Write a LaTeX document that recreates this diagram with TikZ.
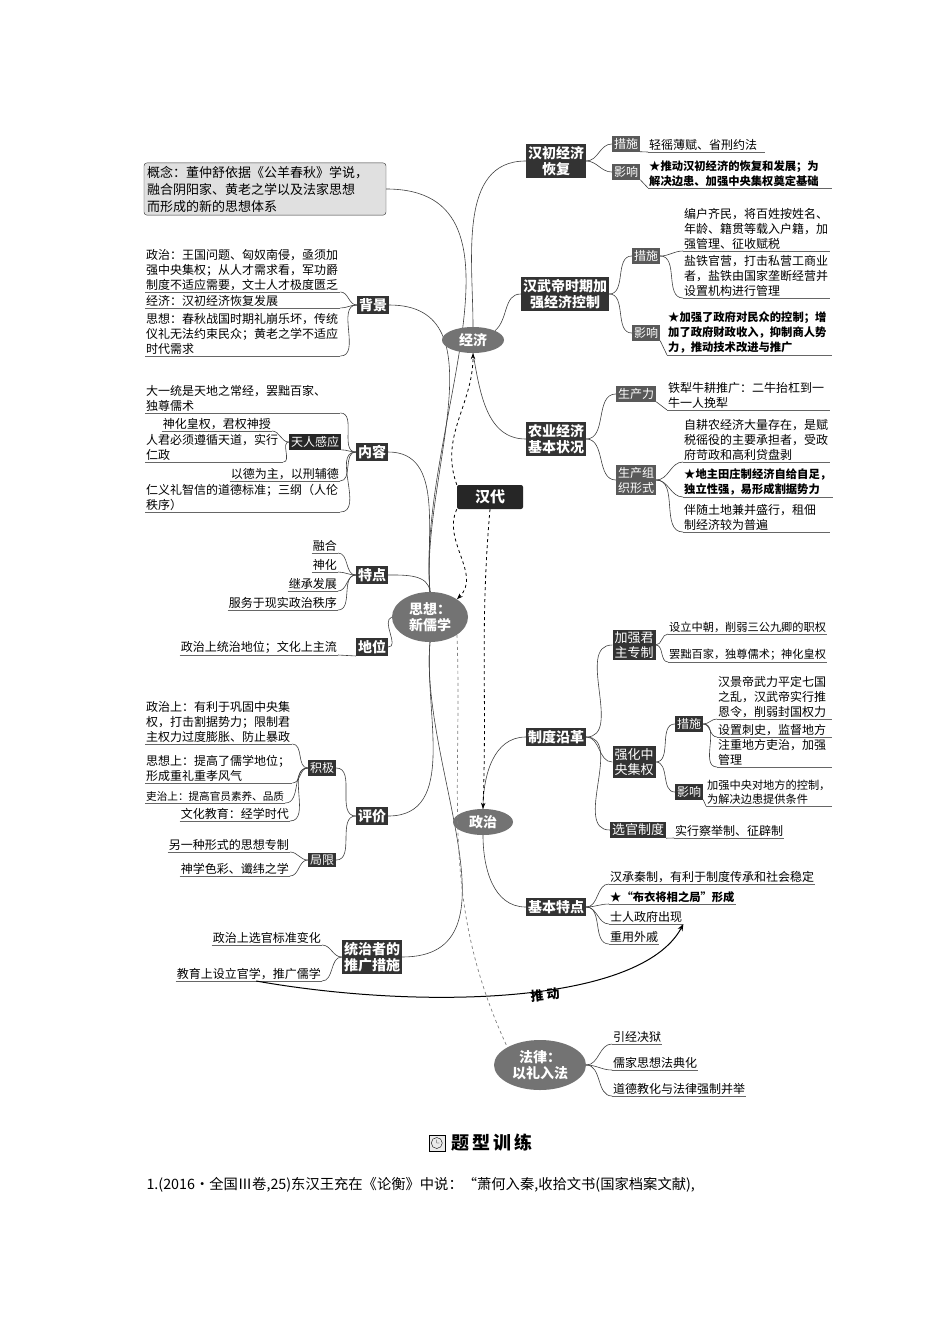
\documentclass[tikz,border=0pt]{standalone}
\usepackage{fontspec}
\setmainfont{Noto Sans CJK SC}
\XeTeXlinebreaklocale "zh"
\XeTeXlinebreakskip=0pt plus 1pt
\usetikzlibrary{shapes.geometric,calc,arrows.meta}
\newcommand{\fs}{\fontsize{12}{15}\selectfont}
\newcommand{\fb}{\fontsize{11.3}{15}\selectfont\bfseries}
\newcommand{\fh}{\fontsize{14}{16.5}\selectfont\bfseries}
\begin{document}
\begin{tikzpicture}[x=1pt,y=-1pt,
  leaf/.style={inner xsep=1pt,inner ysep=1.5pt,align=left,font=\fs,
    append after command={(\tikzlastnode.south west) edge[draw=black!60,line width=0.8pt] (\tikzlastnode.south east)}},
  leafr/.style={leaf,align=right},
  bleaf/.style={leaf,font=\fb},
  dbox/.style={fill=black!80,text=white,font=\fh,inner sep=2pt,align=center},
  sbox/.style={fill=black!65,text=white,font=\fs,inner sep=2pt,align=center},
  ell/.style={ellipse,fill=black!55,text=white,font=\fh,inner sep=1pt,align=center},
  con/.style={draw=black!75,line width=0.6pt},
  dar/.style={dashed,line width=0.8pt,-{Stealth[length=6pt]}}]
\useasboundingbox[fill=white] (0,0) rectangle (950,1344);

% ---------------- left: thought
\node[ell,minimum width=76,minimum height=50] (sx) at (430,617) {思想：\\新儒学};
\node[draw=black!80,fill=black!12,rounded corners=3pt,text width=236,align=left,font=\fontsize{13}{17}\selectfont,inner sep=3pt] (gn) at (265,189) {概念：董仲舒依据《公羊春秋》学说，\\融合阴阳家、黄老之学以及法家思想\\而形成的新的思想体系};

\node[dbox] (bj) at (373,305) {背景};
\node[leaf,anchor=south west,text width=193] (bj1) at (145,292) {政治：王国问题、匈奴南侵，亟须加\\强中央集权；从人才需求看，军功爵\\制度不适应需要，文士人才极度匮乏};
\node[leaf,anchor=south west,text width=193] (bj2) at (145,308) {经济：汉初经济恢复发展};
\node[leaf,anchor=south west,text width=193] (bj3) at (145,356) {思想：春秋战国时期礼崩乐坏，传统\\仪礼无法约束民众；黄老之学不适应\\时代需求};

\node[dbox] (nr) at (372,452) {内容};
\node[leaf,anchor=south west,text width=193] (nr1) at (145,413) {大一统是天地之常经，罢黜百家、\\独尊儒术};
\node[sbox,fill=black!85] (tr) at (315,442) {天人感应};
\node[leafr,anchor=south east] (nr2) at (272,431) {神化皇权，君权神授};
\node[leaf,anchor=south west,text width=136] (nr3) at (145,462) {人君必须遵循天道，实行\\仁政};
\node[leafr,anchor=south east] (nr4) at (340,481) {以德为主，以刑辅德};
\node[leaf,anchor=south west,text width=193] (nr5) at (145,512) {仁义礼智信的道德标准；三纲（人伦\\秩序）};

\node[dbox] (td) at (372,575) {特点};
\node[leafr,anchor=south east] (td1) at (338,553) {融合};
\node[leafr,anchor=south east] (td2) at (338,572) {神化};
\node[leafr,anchor=south east] (td3) at (338,591) {继承发展};
\node[leafr,anchor=south east] (td4) at (338,610) {服务于现实政治秩序};

\node[dbox] (dw) at (372,647) {地位};
\node[leafr,anchor=south east] (dw1) at (338,655) {政治上统治地位；文化上主流};

\node[dbox] (pj) at (372,816) {评价};
\node[sbox,fill=black!80] (jj1) at (322,768) {积极};
\node[sbox,fill=black!80] (jx) at (322,860) {局限};
\node[leaf,anchor=south west,text width=145] (pj1) at (145,744) {政治上：有利于巩固中央集\\权，打击割据势力；限制君\\主权力过度膨胀、防止暴政};
\node[leaf,anchor=south west,text width=145] (pj2) at (145,783) {思想上：提高了儒学地位；\\形成重礼重孝风气};
\node[leaf,anchor=south west,font=\fontsize{10.6}{13}\selectfont] (pj3) at (145,803) {吏治上：提高官员素养、品质};
\node[leafr,anchor=south east] (pj4) at (290,821) {文化教育：经学时代};
\node[leafr,anchor=south east] (jx1) at (290,852) {另一种形式的思想专制};
\node[leafr,anchor=south east] (jx2) at (290,876) {神学色彩、谶纬之学};

\node[dbox] (ts) at (372,957) {统治者的\\推广措施};
\node[leafr,anchor=south east] (ts1) at (322,945) {政治上选官标准变化};
\node[leafr,anchor=south east] (ts2) at (322,981) {教育上设立官学，推广儒学};

% connectors left
\foreach \n in {gn,bj,nr,td} \draw[con] (sx.north) to[out=95,in=0] (\n.east);
\draw[con] (sx.west) to[out=200,in=0] (dw.east);
\draw[con] (dw1.south east) -- (dw.south west);
\foreach \n in {pj,ts} \draw[con] (sx.south) to[out=-95,in=0] (\n.east);
\foreach \n in {bj1,bj2,bj3} \draw[con] (bj.west) to[out=180,in=0] (\n.south east);
\foreach \n in {nr1,tr,nr4,nr5} \draw[con] (nr.west) to[out=180,in=0] (\n.south east);
\foreach \n in {nr2,nr3} \draw[con] (tr.west) to[out=180,in=0] (\n.south east);
\foreach \n in {td1,td2,td3,td4} \draw[con] (td.west) to[out=180,in=0] (\n.south east);
\foreach \n in {jj1,jx} \draw[con] (pj.west) to[out=180,in=0] (\n.east);
\foreach \n in {pj1,pj2,pj3,pj4} \draw[con] (jj1.west) to[out=180,in=0] (\n.south east);
\foreach \n in {jx1,jx2} \draw[con] (jx.west) to[out=180,in=0] (\n.south east);
\foreach \n in {ts1,ts2} \draw[con] (ts.west) to[out=180,in=0] (\n.south east);

% ---------------- center
\node[fill=black!85,text=white,font=\fontsize{15}{17}\selectfont\bfseries,rounded corners=2pt,minimum width=66,minimum height=24] (hd) at (490,497) {汉代};

% ---------------- economy
\node[ell,minimum width=62,minimum height=26] (ec) at (473,340) {经济};
\node[dbox] (e1b) at (556,161) {汉初经济\\恢复};
\node[sbox] (e1c) at (626,144) {措施};
\node[sbox] (e1y) at (626,172) {影响};
\node[leaf,anchor=south west,text width=115] (e11) at (648,152) {轻徭薄赋、省刑约法};
\node[bleaf,anchor=south west,text width=182] (e12) at (648,188) {★推动汉初经济的恢复和发展；为\\解决边患、加强中央集权奠定基础};

\node[dbox] (e2b) at (565,294) {汉武帝时期加\\强经济控制};
\node[sbox] (e2c) at (646,256) {措施};
\node[sbox] (e2y) at (646,333) {影响};
\node[leaf,anchor=south west,text width=145] (e21) at (683,251) {编户齐民，将百姓按姓名、\\年龄、籍贯等载入户籍，加\\强管理、征收赋税};
\node[leaf,anchor=south west,text width=145] (e22) at (683,298) {盐铁官营，打击私营工商业\\者，盐铁由国家垄断经营并\\设置机构进行管理};
\node[bleaf,anchor=south west,text width=163] (e23) at (667,355) {★加强了政府对民众的控制；增\\加了政府财政收入，抑制商人势\\力，推动技术改进与推广};

\node[dbox] (e3b) at (556,439) {农业经济\\基本状况};
\node[sbox] (e3s) at (636,394) {生产力};
\node[sbox] (e3z) at (636,480) {生产组\\织形式};
\node[leaf,anchor=south west,text width=161] (e31) at (667,410) {铁犁牛耕推广：二牛抬杠到一\\牛一人挽犁};
\node[leaf,anchor=south west,text width=145] (e32) at (683,462) {自耕农经济大量存在，是赋\\税徭役的主要承担者，受政\\府苛政和高利贷盘剥};
\node[bleaf,anchor=south west,text width=148] (e33) at (683,497) {★地主田庄制经济自给自足，\\独立性强，易形成割据势力};
\node[leaf,anchor=south west,text width=145] (e34) at (683,532) {伴随土地兼并盛行，租佃\\制经济较为普遍};

\draw[con] (ec.north) to[out=90,in=180] (e1b.west);
\draw[con] (ec.north east) to[out=40,in=180] (e2b.west);
\draw[con] (ec.south) to[out=-80,in=180] (e3b.west);
\foreach \n in {e1c,e1y} \draw[con] (e1b.east) to[out=0,in=180] (\n.west);
\foreach \n in {e2c,e2y} \draw[con] (e2b.east) to[out=0,in=180] (\n.west);
\foreach \n in {e3s,e3z} \draw[con] (e3b.east) to[out=0,in=180] (\n.west);
\foreach \n in {e21,e22} \draw[con] (e2c.east) to[out=0,in=180] (\n.south west);
\foreach \n in {e32,e33,e34} \draw[con] (e3z.east) to[out=0,in=180] (\n.south west);
\draw[con] (e1c.south east) -- (e11.south west);
\draw[con] (e1y.south east) -- (e12.south west);
\draw[con] (e2y.south east) -- (e23.south west);
\draw[con] (e3s.south east) -- (e31.south west);

% ---------------- politics
\node[ell,minimum width=60,minimum height=26] (zz) at (483,822) {政治};
\node[dbox] (zd) at (556,737) {制度沿革};
\node[sbox,fill=black!80,font=\fontsize{13}{15}\selectfont] (jq) at (634,645) {加强君\\主专制};
\node[sbox,fill=black!80,font=\fontsize{13}{15}\selectfont] (qh) at (634,762) {强化中\\央集权};
\node[sbox,fill=black!80,font=\fontsize{13}{15}\selectfont] (xg) at (638,830) {选官制度};
\node[leaf,anchor=south west,font=\fontsize{11.2}{14}\selectfont] (p1) at (668,634) {设立中朝，削弱三公九卿的职权};
\node[leaf,anchor=south west,font=\fontsize{11.2}{14}\selectfont] (p2) at (668,662) {罢黜百家，独尊儒术；神化皇权};
\node[sbox,fill=black!80] (qc) at (689,724) {措施};
\node[sbox,fill=black!80] (qy) at (689,792) {影响};
\node[leaf,anchor=south west,text width=113] (p3) at (717,719) {汉景帝武力平定七国\\之乱，汉武帝实行推\\恩令，削弱封国权力};
\node[leaf,anchor=south west,text width=113] (p4) at (717,737) {设置刺史，监督地方};
\node[leaf,anchor=south west,text width=113] (p5) at (717,767) {注重地方吏治，加强\\管理};
\node[leaf,anchor=south west,text width=124,font=\fontsize{11.2}{14}\selectfont] (p6) at (706,806) {加强中央对地方的控制，\\为解决边患提供条件};
\node[leaf,anchor=south west] (p7) at (674,838) {实行察举制、征辟制};

\node[dbox] (jb) at (556,907) {基本特点};
\node[leaf,anchor=south west] (q1) at (609,884) {汉承秦制，有利于制度传承和社会稳定};
\node[bleaf,anchor=south west] (q2) at (609,904) {★“布衣将相之局”形成};
\node[leaf,anchor=south west] (q3) at (609,924) {士人政府出现};
\node[leaf,anchor=south west] (q4) at (609,944) {重用外戚};

\draw[con] (zz.north) to[out=90,in=180] (zd.west);
\draw[con] (zz.south) to[out=-90,in=180] (jb.west);
\foreach \n in {jq,qh,xg} \draw[con] (zd.east) to[out=0,in=180] (\n.west);
\foreach \n in {p1,p2} \draw[con] (jq.east) to[out=0,in=180] (\n.south west);
\foreach \n in {qc,qy} \draw[con] (qh.east) to[out=0,in=180] (\n.west);
\foreach \n in {p3,p4,p5} \draw[con] (qc.east) to[out=0,in=180] (\n.south west);
\draw[con] (qy.south east) -- (p6.south west);
\draw[con] (xg.south east) -- (p7.south west);
\foreach \n in {q1,q2,q3,q4} \draw[con] (jb.east) to[out=0,in=180] (\n.south west);

% ---------------- law
\node[ell,minimum width=92,minimum height=50] (fl) at (540,1065) {法律：\\以礼入法};
\node[leaf,anchor=south west] (l1) at (612,1044) {引经决狱};
\node[leaf,anchor=south west] (l2) at (612,1070) {儒家思想法典化};
\node[leaf,anchor=south west] (l3) at (612,1096) {道德教化与法律强制并举};
\foreach \n in {l1,l2,l3} \draw[con] (fl.east) to[out=0,in=180] (\n.south west);

% ---------------- dashed links
\draw[dar] (hd.north west) to[out=110,in=-90] (ec.south);
\draw[dar] (hd.south west) to[out=-115,in=45] (sx.north east);
\draw[dar] (hd.south) to[out=-95,in=88] (zz.north);
\draw[dashed,draw=black!50,line width=0.7pt] (sx.south east) to[out=-88,in=115] (fl.north west);

% ---------------- 推动
\coordinate (tdst) at ($(ts2.south west)!0.55!(ts2.south east)$);
\draw[line width=1pt,-{Stealth[length=7pt]}] (tdst) .. controls (420,1010) and (640,1005) .. (q3.south east);
\node[font=\fontsize{13}{15}\selectfont\bfseries,rotate=6] (tdl) at (545,995) {推 动};

% ---------------- footer
\node[font=\fontsize{18}{20}\selectfont\bfseries] (tt) at (492,1143) {题\,型\,训\,练};
\node[draw=black,fill=black!8,minimum size=16,inner sep=0pt,anchor=east] (ic) at ($(tt.west)+(-3,0)$) {};
\draw (ic.center) circle (5.5pt) (ic.center) -- ++(0,-3.5) (ic.center) -- ++(2.5,0);
\node[anchor=west,font=\fontsize{14.3}{16}\selectfont] (q) at (143,1185) {1.(2016·全国Ⅲ卷,25)东汉王充在《论衡》中说：“萧何入秦,收拾文书(国家档案文献),};
\end{tikzpicture}
\end{document}
